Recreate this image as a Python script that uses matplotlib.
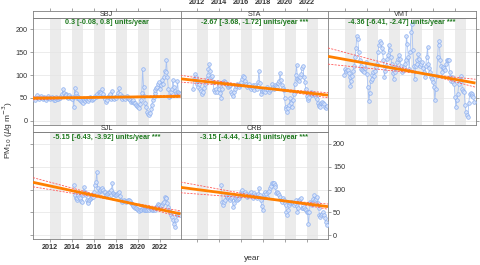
import numpy as np
import matplotlib
matplotlib.use("Agg")
import matplotlib.pyplot as plt

plt.rcParams['font.family'] = ['Liberation Sans', 'DejaVu Sans']

# ---------------- data (monthly means) ----------------
sites = ["SBJ", "STA", "VMT", "SJL", "CRB"]

sbj_start = (2010, 9)
sbj_values = [45, 52, 56, 50,
              48, 52, 55, 50, 47, 49, 53, 50, 46, 51, 54, 49,
              47, 50, 53, 49, 46, 45, 50, 52, 48, 47, 51, 49,
              55, 58, 69, 60, 54, 58, 57, 52, 50, 56, 53, 51,
              48, 52, 30, 72, 60, 55, 50, 53, 48, 45, 44, 42,
              40, 45, 43, 48, 46, 50, 44, 47, 52, 49, 45, 48,
              50, 55, 52, 58, 54, 62, 63, 58, 60, 70, 58, 52,
              48, 41, 45, 52, 55, 58, 50, 47, 65, 50, 48, 52,
              50, 55, 60, 72, 58, 52, 48, 55, 53, 50, 48, 52,
              55, 50, 48, 45, 42, 44, 41, 45, 40, 38, 35, 32,
              30, 28, 36, 45, 60, 114, 74, 55, 40, 30, 20, 15,
              12, 18, 25, 35, 45, 52, 60, 67, 72, 75, 80, 85,
              70, 78, 89, 80, 95, 110, 106, 134, 96, 70, 52, 55,
              62, 70, 89, 75, 65, 60, 58, 88, 62, 60, 58]

sta_start = (2011, 8)
sta_values = [70, 92, 103, 96, 88,
              81, 75, 81, 70, 65, 59, 62, 72, 81, 88, 92, 100,
              114, 125, 110, 96, 99, 85, 67, 63, 70, 63, 85, 78,
              70, 60, 51, 70, 85, 88, 84, 81, 78, 74, 76, 78,
              78, 63, 58, 54, 62, 70, 76, 81, 78, 74, 78, 81,
              86, 92, 99, 95, 88, 80, 74, 78, 81, 75, 70, 74,
              78, 72, 67, 78, 74, 70, 85, 108, 82, 59, 65, 68,
              70, 66, 63, 70, 74, 68, 63, 67, 70, 81, 75, 70,
              74, 78, 76, 74, 82, 88, 104, 90, 78, 72, 67, 50,
              30, 25, 20, 28, 34, 49, 40, 30, 45, 59, 81, 100,
              123, 92, 90, 88, 95, 103, 115, 121, 96, 85, 70, 55,
              45, 50, 52, 58, 63, 56, 58, 59, 57, 52, 48, 40,
              34, 32, 30, 38, 41, 38, 36, 30, 27, 32]

vmt_start = (2011, 12)
vmt_values = [101,
              114, 110, 112, 112, 104, 96, 76, 88, 99, 110, 121, 140,
              160, 186, 179, 150, 132, 120, 114, 112, 110, 107, 115, 128,
              103, 74, 43, 60, 88, 92, 100, 107, 99, 110, 117, 125,
              150, 165, 175, 170, 160, 150, 132, 96, 110, 121, 135, 143,
              165, 154, 140, 125, 105, 92, 107, 115, 117, 128, 135, 143,
              136, 120, 107, 112, 117, 125, 132, 186, 168, 140, 114, 150,
              194, 212, 154, 120, 92, 121, 125, 132, 146, 135, 121, 125,
              128, 115, 107, 96, 120, 139, 161, 125, 115, 107, 95, 92,
              85, 74, 45, 70, 99, 140, 175, 165, 132, 120, 107, 117,
              115, 112, 125, 132, 132, 132, 107, 95, 88, 96, 85, 81,
              52, 30, 45, 59, 81, 90, 99, 88, 70, 65, 63, 34,
              20, 12, 9, 40, 59, 60, 58, 55, 52, 41]

sjl_start = (2014, 3)
sjl_values = [110, 88, 81, 77, 82, 88, 84, 81, 76, 73,
              88, 106, 95, 88, 77, 74, 70, 77, 79, 81, 83, 84,
              95, 110, 117, 139, 103, 95, 97, 99, 101, 103, 99, 95,
              95, 88, 90, 92, 94, 95, 88, 100, 114, 92, 90, 88,
              88, 90, 92, 95, 85, 77, 75, 73, 75, 77, 75, 73,
              75, 77, 77, 75, 70, 68, 66, 64, 62, 60, 59, 57,
              55, 54, 55, 56, 57, 59, 57, 55, 56, 55, 56, 58,
              56, 59, 57, 55, 56, 58, 56, 59, 62, 65, 68, 66,
              62, 64, 66, 70, 73, 84, 82, 81, 70, 62, 55, 51,
              44, 40, 33, 25, 18, 33, 44, 46, 48, 46, 44]

crb_start = (2014, 3)
crb_values = [110, 73, 66, 72, 77, 88, 84, 81, 84, 80,
              77, 82, 84, 62, 70, 81, 79, 77, 80, 81, 85, 88,
              95, 99, 92, 90, 95, 90, 84, 86, 88, 92, 95, 88,
              81, 88, 92, 88, 85, 81, 90, 103, 88, 77, 65, 55,
              84, 90, 95, 90, 84, 95, 98, 103, 108, 114, 114, 114,
              110, 105, 92, 95, 92, 88, 84, 78, 73, 81, 78, 70,
              66, 50, 44, 55, 66, 70, 72, 73, 70, 66, 70, 77,
              65, 51, 60, 77, 80, 81, 59, 60, 62, 58, 55, 52,
              51, 24, 50, 73, 70, 66, 80, 88, 77, 80, 84, 70,
              59, 45, 40, 44, 46, 51, 45, 37, 30, 22]

# Theil-Sen results (slope, lower, upper, significance stars)
slopes = [0.3, -2.67, -4.36, -5.15, -3.15]
slope_low = [-0.08, -3.68, -6.41, -6.43, -4.44]
slope_high = [0.8, -1.72, -2.47, -3.92, -1.84]
stars = ["", "***", "***", "***", "***"]
# trend value at 2017.0 and pivot year of the CI lines
trend_ref = [51.5, 74.6, 112.7, 82.5, 84.5]
ci_pivot = [2017.5, 2018.2, 2019.5, 2018.5, 2019.5]

year_ticks = [2012, 2014, 2016, 2018, 2020, 2022]
y_ticks = [0, 50, 100, 150, 200]

starts = [sbj_start, sta_start, vmt_start, sjl_start, crb_start]
values = [sbj_values, sta_values, vmt_values, sjl_values, crb_values]

# ---------------- layout ----------------
W, H = 480, 265
fig = plt.figure(figsize=(W / 100, H / 100), dpi=100)

col_x = [33, 180.5, 328]
pw = 147.5
rows = [(11, 17.5, 124.5), (124.5, 132, 239)]  # strip top, panel top, panel bottom
grid_pos = [(0, 0), (0, 1), (0, 2), (1, 0), (1, 1)]
XLIM = (2010.5, 2023.9)
YLIM = (-8, 226)
edge = '#7f7f7f'
txt = '#333333'


def fa(x0, y_top, w, h):
    return [x0 / W, 1 - (y_top + h) / H, w / W, h / H]


for i, site in enumerate(sites):
    r, c = grid_pos[i]
    st, pt, pb = rows[r]
    ax = fig.add_axes(fa(col_x[c], pt, pw, pb - pt))
    sax = fig.add_axes(fa(col_x[c], st, pw, pt - st))

    # year shading
    for y0 in range(2012, 2024, 2):
        ax.axvspan(y0, y0 + 1, color='#ebebeb', lw=0, zorder=0)
    for yv in y_ticks:
        ax.axhline(yv, color='#e4e4e4', lw=0.5, zorder=0.5)

    y0, m0 = starts[i]
    v = np.array(values[i], dtype=float)
    t = y0 + (m0 - 1) / 12 + 1 / 24 + np.arange(len(v)) / 12
    ax.plot(t, v, '-', color='#a9c3f3', lw=0.6, zorder=2)
    ax.plot(t, v, 'o', ms=2.6, mfc='#d6e2fa', mec='#8db0ef', mew=0.5, zorder=3)

    xx = np.array(XLIM)
    tp = trend_ref[i] + slopes[i] * (ci_pivot[i] - 2017.0)
    ax.plot(xx, tp + slope_low[i] * (xx - ci_pivot[i]), color='#ff5a5a', lw=0.6,
            ls=(0, (2.5, 1.5)), zorder=4)
    ax.plot(xx, tp + slope_high[i] * (xx - ci_pivot[i]), color='#ff5a5a', lw=0.6,
            ls=(0, (2.5, 1.5)), zorder=4)
    ax.plot(xx, trend_ref[i] + slopes[i] * (xx - 2017.0), color='#ff8000', lw=2.0,
            zorder=5, solid_capstyle='butt')

    lab = f"{slopes[i]} [{slope_low[i]}, {slope_high[i]}] units/year"
    if stars[i]:
        lab += " " + stars[i]
    ax.text(0.5, 0.985, lab, transform=ax.transAxes, ha='center', va='top',
            fontsize=5.2, fontweight='bold', color='#1f7a1f', zorder=6)

    ax.set_xlim(*XLIM)
    ax.set_ylim(*YLIM)
    for s in ax.spines.values():
        s.set_color(edge)
        s.set_linewidth(0.6)
    ax.set_xticks(year_ticks)
    ax.set_yticks(y_ticks)
    ax.tick_params(axis='both', direction='out', length=2.2, width=0.5, color=edge,
                   labelsize=5.2, labelcolor=txt, pad=1.5)
    ax.tick_params(axis='x', top=False, bottom=False, labelbottom=False)
    ax.tick_params(axis='y', left=False, right=False, labelleft=False, labelright=False)

    # strip
    sax.set_xlim(*XLIM)
    sax.set_ylim(0, 1)
    sax.set_yticks([])
    sax.set_facecolor('white')
    for s in sax.spines.values():
        s.set_color(edge)
        s.set_linewidth(0.6)
    sax.text(0.5, 0.45, site, transform=sax.transAxes, ha='center', va='center',
             fontsize=5.2, color=txt)
    sax.set_xticks(year_ticks)
    sax.tick_params(axis='x', direction='out', length=2.2, width=0.5, color=edge,
                    labelsize=5.2, labelcolor=txt, pad=1.5,
                    bottom=False, labelbottom=False, top=False, labeltop=False)

    if r == 0:
        sax.tick_params(axis='x', top=True)
        if c == 1:
            sax.tick_params(axis='x', labeltop=True)
            for lb in sax.get_xticklabels():
                lb.set_fontweight('bold')
        if c == 0:
            ax.tick_params(axis='y', left=True, labelleft=True)
        if c == 2:
            ax.tick_params(axis='y', right=True)
    else:
        ax.tick_params(axis='x', bottom=True)
        if c == 0:
            ax.tick_params(axis='x', labelbottom=True)
            for lb in ax.get_xticklabels():
                lb.set_fontweight('bold')
            ax.tick_params(axis='y', left=True)
        if c == 1:
            ax.tick_params(axis='y', right=True, labelright=True)

fig.text(8 / W, 1 - 130 / H, r"PM$_{10}$ ($\mu$g m$^{-3}$)", rotation=90,
         ha='center', va='center', fontsize=6, color=txt)
fig.text(252 / W, 1 - 258 / H, "year", ha='center', va='center', fontsize=6,
         color=txt)

fig.savefig("out.png", dpi=100)
